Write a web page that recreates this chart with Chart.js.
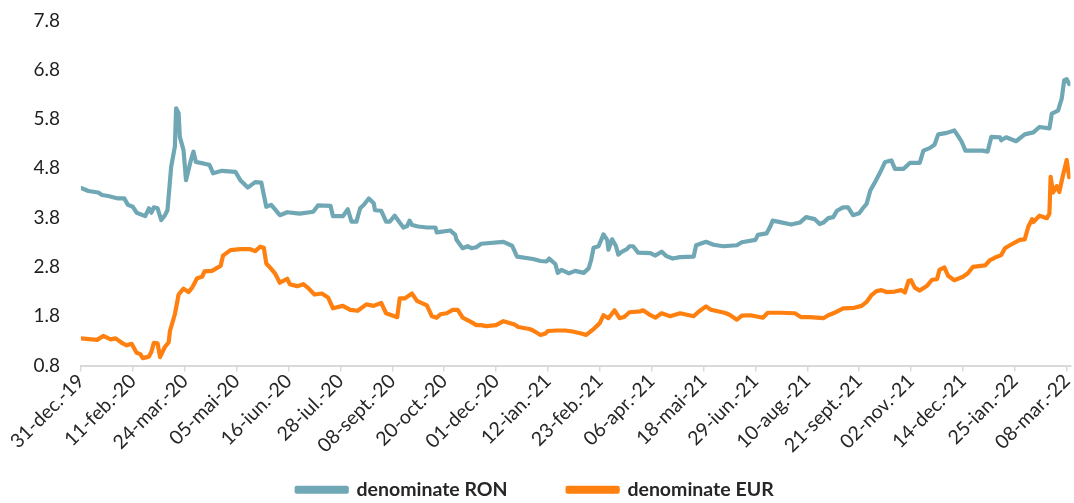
<!DOCTYPE html>
<html><head><meta charset="utf-8">
<script src="https://cdn.jsdelivr.net/npm/chart.js@4.4.1/dist/chart.umd.min.js"></script>
<style>html,body{margin:0;padding:0;background:#fff}#wrap{width:1074px;height:503px;position:relative}</style>
</head><body><div id="wrap"><canvas id="c" width="1074" height="503"></canvas></div>
<script>
// x positions are days elapsed since 31-dec-2019
const xTickLabels = ['31-dec.-19','11-feb.-20','24-mar.-20','05-mai-20','16-iun.-20','28-iul.-20','08-sept.-20','20-oct.-20','01-dec.-20','12-ian.-21','23-feb.-21','06-apr.-21','18-mai-21','29-iun.-21','10-aug.-21','21-sept.-21','02-nov.-21','14-dec.-21','25-ian.-22','08-mar.-22'];
const xTickDays = [0,42,84,126,168,210,252,294,336,378,420,462,504,546,588,630,672,714,756,798];
const yTickValues = [0.8,1.8,2.8,3.8,4.8,5.8,6.8,7.8];

const ronDays = [0,6,14,17,22,30,35,38,42,45,52,55,57,59,62,65,68,70,73,76,77,79,80,83,85,89,91,93,99,104,107,114,125,129,135,141,146,150,154,161,167,177,188,192,202,204,212,216,219,223,226,229,233,237,238,243,247,250,254,258,261,264,266,268,273,280,287,288,299,303,304,309,313,316,320,324,342,349,353,366,372,377,379,384,386,389,395,400,407,411,413,415,419,423,426,427,430,433,435,438,442,444,447,451,461,465,470,474,479,485,496,498,506,512,520,531,535,546,548,555,558,560,566,575,582,587,594,598,601,605,609,612,617,621,625,630,633,636,639,643,647,651,656,659,666,671,679,682,687,691,694,701,707,710,713,716,722,730,734,737,744,745,749,757,764,771,776,784,786,791,794,796,798,800];
const ronValues = [4.40,4.34,4.31,4.26,4.24,4.19,4.19,4.06,4.02,3.90,3.83,3.99,3.90,4.01,3.99,3.75,3.85,3.95,4.83,5.24,6.02,5.92,5.44,5.17,4.56,4.97,5.14,4.93,4.90,4.87,4.70,4.75,4.73,4.56,4.41,4.52,4.51,4.02,4.06,3.85,3.91,3.88,3.92,4.05,4.04,3.83,3.83,3.97,3.72,3.72,3.99,4.06,4.19,4.09,3.95,3.94,3.72,3.72,3.84,3.70,3.60,3.63,3.74,3.65,3.62,3.60,3.60,3.50,3.54,3.45,3.35,3.18,3.22,3.18,3.20,3.27,3.31,3.23,3.01,2.96,2.92,2.91,2.97,2.86,2.68,2.74,2.67,2.72,2.68,2.77,2.94,3.19,3.22,3.46,3.35,3.15,3.36,3.23,3.05,3.11,3.16,3.22,3.22,3.09,3.08,3.03,3.11,3.02,2.97,3.00,3.01,3.24,3.31,3.25,3.22,3.24,3.30,3.35,3.45,3.48,3.62,3.74,3.71,3.66,3.70,3.81,3.77,3.67,3.70,3.79,3.81,3.94,4.01,4.01,3.85,3.89,3.99,4.08,4.35,4.53,4.72,4.93,4.96,4.79,4.79,4.91,4.91,5.16,5.21,5.28,5.49,5.52,5.57,5.46,5.34,5.16,5.16,5.16,5.14,5.44,5.43,5.37,5.43,5.35,5.49,5.53,5.64,5.61,5.91,5.97,6.22,6.59,6.61,6.51];

const eurDays = [0,13,18,24,28,33,37,41,45,48,50,55,57,59,62,64,68,71,72,76,79,83,87,90,94,98,100,106,113,115,121,129,137,141,145,148,150,154,157,161,167,169,175,180,184,189,195,200,204,212,218,224,231,237,243,247,256,258,262,268,272,280,284,288,291,296,301,305,309,316,320,324,328,336,342,351,354,363,366,372,376,378,385,392,398,405,409,415,420,423,427,432,436,440,444,453,455,461,465,470,477,485,496,500,506,510,521,525,531,535,542,552,556,566,578,583,590,601,605,610,617,626,632,636,640,644,648,652,659,664,667,670,672,675,679,685,689,693,695,699,702,707,714,718,722,732,736,740,745,748,752,760,764,767,770,771,776,782,784,785,787,790,792,795,798,800];
const eurValues = [1.35,1.32,1.40,1.33,1.35,1.26,1.21,1.24,1.06,1.03,0.95,0.98,1.08,1.26,1.25,0.97,1.18,1.27,1.50,1.84,2.24,2.36,2.29,2.38,2.57,2.60,2.71,2.72,2.82,3.03,3.14,3.16,3.16,3.12,3.21,3.19,2.87,2.76,2.67,2.48,2.56,2.45,2.41,2.45,2.37,2.24,2.26,2.18,1.96,2.01,1.93,1.91,2.04,2.01,2.07,1.86,1.78,2.16,2.16,2.26,2.11,2.02,1.80,1.77,1.84,1.86,1.93,1.93,1.77,1.68,1.62,1.62,1.60,1.62,1.70,1.63,1.58,1.54,1.51,1.42,1.45,1.50,1.51,1.51,1.49,1.45,1.42,1.54,1.66,1.82,1.76,1.92,1.76,1.79,1.88,1.90,1.92,1.82,1.77,1.86,1.80,1.86,1.80,1.89,2.00,1.93,1.87,1.83,1.73,1.81,1.82,1.77,1.87,1.87,1.86,1.78,1.78,1.76,1.82,1.87,1.96,1.97,2.01,2.09,2.23,2.31,2.33,2.29,2.30,2.33,2.28,2.52,2.53,2.38,2.32,2.42,2.54,2.55,2.74,2.79,2.62,2.53,2.60,2.67,2.80,2.83,2.94,2.99,3.04,3.18,3.24,3.35,3.36,3.62,3.77,3.71,3.84,3.79,3.88,4.63,4.31,4.44,4.32,4.66,4.97,4.62];

const RON_COLOR = '#6fa7b4';
const EUR_COLOR = '#ff7f0f';
const FONT = "Lato, 'Open Sans', sans-serif";
const LEGEND_HEIGHT = 83;

const legendFix = {
  id: 'legendFix',
  beforeLayout(chart) {
    const lg = chart.legend;
    if (lg && !lg._fixed) {
      const orig = lg.fit.bind(lg);
      lg.fit = function () { orig(); this.height = LEGEND_HEIGHT; };
      lg._fixed = true;
    }
  }
};

new Chart(document.getElementById('c'), {
  type: 'line',
  data: {
    datasets: [
      { label: 'denominate RON', data: ronDays.map((d, i) => ({ x: d, y: ronValues[i] })),
        borderColor: RON_COLOR, backgroundColor: RON_COLOR, borderWidth: 4.2, pointRadius: 0,
        tension: 0, borderJoinStyle: 'round', borderCapStyle: 'round' },
      { label: 'denominate EUR', data: eurDays.map((d, i) => ({ x: d, y: eurValues[i] })),
        borderColor: EUR_COLOR, backgroundColor: EUR_COLOR, borderWidth: 4.2, pointRadius: 0,
        tension: 0, borderJoinStyle: 'round', borderCapStyle: 'round' }
    ]
  },
  options: {
    responsive: false, animation: false, devicePixelRatio: 1,
    layout: { padding: { top: 20.5, left: 0, right: 3.6, bottom: 0 } },
    plugins: {
      tooltip: { enabled: false },
      legend: {
        position: 'bottom',
        labels: { boxWidth: 50, boxHeight: 4, padding: 60, color: '#262626',
          font: { family: FONT, size: 19.5, weight: 'bold' } }
      }
    },
    scales: {
      x: {
        type: 'linear', min: 0, max: 801,
        afterBuildTicks: (axis) => { axis.ticks = xTickDays.map(v => ({ value: v })); },
        afterFit: (s) => {
          s.height = 420 - 365.5;
          s.paddingLeft = 0; s.paddingRight = 0;
          s._computeLabelArea = () => undefined;
        },
        ticks: {
          autoSkip: false, maxRotation: 45, minRotation: 45, padding: -2, color: '#262626',
          font: { family: FONT, size: 19.5 },
          callback: (v) => { const i = xTickDays.indexOf(v); return i >= 0 ? xTickLabels[i] : ''; }
        },
        grid: { drawOnChartArea: false, drawTicks: true, tickLength: 6, color: '#d9d9d9', lineWidth: 1.5 },
        border: { display: true, color: '#d9d9d9', width: 2 }
      },
      y: {
        min: 0.8, max: 7.8,
        afterBuildTicks: (axis) => { axis.ticks = yTickValues.map(v => ({ value: v })); },
        afterFit: (s) => { s.width = 81; s.paddingTop = 0; s.paddingBottom = 0; },
        ticks: { padding: 21, color: '#1f1f1f', font: { family: FONT, size: 19 },
          callback: (v) => Number(v).toFixed(1) },
        grid: { display: false, drawTicks: false },
        border: { display: false }
      }
    }
  },
  plugins: [legendFix]
});
</script>
</body></html>
